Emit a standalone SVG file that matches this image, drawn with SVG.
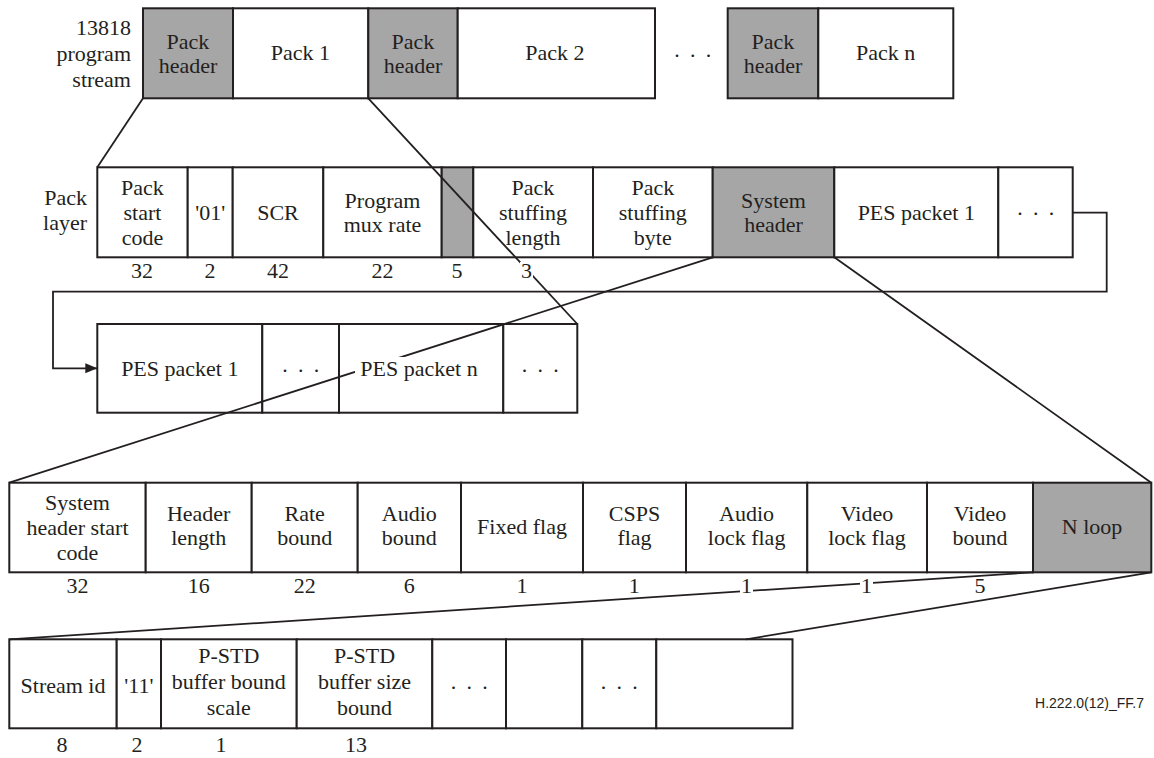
<svg xmlns="http://www.w3.org/2000/svg" width="1154" height="758" viewBox="0 0 1154 758">
<style>
  .c { fill: #ffffff; stroke: #231f20; stroke-width: 2; }
  .g { fill: #a6a6a6; stroke: #231f20; stroke-width: 2; }
  text { font-family: "Liberation Serif", "Times New Roman", serif; font-size: 22px; fill: #231f20; text-anchor: middle; }
  .lbl { text-anchor: end; }
  .dots { letter-spacing: 2.4px; }
  .ln { fill: none; stroke: #231f20; stroke-width: 1.8; }
  .bg { fill: #ffffff; stroke: none; }
  .ref { font-family: "Liberation Sans", Arial, sans-serif; font-size: 14px; text-anchor: end; }
</style>
<defs>
  <marker id="arr" markerUnits="userSpaceOnUse" markerWidth="13" markerHeight="11" refX="12" refY="5" orient="auto">
    <path d="M0,0 L12,5 L0,10 z" fill="#231f20"/>
  </marker>
</defs>

<!-- Row labels -->
<g id="label-program-stream">
  <text class="lbl" x="131" y="35">13818</text>
  <text class="lbl" x="131" y="61">program</text>
  <text class="lbl" x="131" y="87">stream</text>
</g>
<g id="label-pack-layer">
  <text class="lbl" x="87" y="205">Pack</text>
  <text class="lbl" x="87" y="230">layer</text>
</g>

<!-- Top row: 13818 program stream -->
<g id="ps-pack-header-1"><rect class="g" x="143" y="8.3" width="90" height="90"/><text x="188" y="48.5">Pack</text><text x="188" y="73">header</text></g>
<g id="ps-pack-1"><rect class="c" x="233" y="8.3" width="135.3" height="90"/><text x="300.5" y="60">Pack 1</text></g>
<g id="ps-pack-header-2"><rect class="g" x="368.3" y="8.3" width="89.4" height="90"/><text x="413" y="48.5">Pack</text><text x="413" y="73">header</text></g>
<g id="ps-pack-2"><rect class="c" x="457.7" y="8.3" width="197.3" height="90"/><text x="555" y="60">Pack 2</text></g>
<g id="ps-dots"><text class="dots" x="694" y="57">. . .</text></g>
<g id="ps-pack-header-n"><rect class="g" x="727.7" y="8.3" width="90.6" height="90"/><text x="773" y="48.5">Pack</text><text x="773" y="73">header</text></g>
<g id="ps-pack-n"><rect class="c" x="818.3" y="8.3" width="135" height="90"/><text x="885.7" y="60">Pack n</text></g>

<!-- Pack layer -->
<g id="pl-start-code"><rect class="c" x="97.3" y="167.3" width="90.4" height="90"/><text x="142.5" y="195">Pack</text><text x="142.5" y="220">start</text><text x="142.5" y="245">code</text></g>
<g id="pl-01"><rect class="c" x="187.7" y="167.3" width="45" height="90"/><text x="210.2" y="220">'01'</text></g>
<g id="pl-scr"><rect class="c" x="232.7" y="167.3" width="90.6" height="90"/><text x="278" y="220">SCR</text></g>
<g id="pl-mux-rate"><rect class="c" x="323.3" y="167.3" width="118.4" height="90"/><text x="382.5" y="208">Program</text><text x="382.5" y="232">mux rate</text></g>
<g id="pl-reserved"><rect class="g" x="441.7" y="167.3" width="31.6" height="90"/></g>
<g id="pl-stuffing-length"><rect class="c" x="473.3" y="167.3" width="119.7" height="90"/><text x="533" y="195">Pack</text><text x="533" y="220">stuffing</text><text x="533" y="245">length</text></g>
<g id="pl-stuffing-byte"><rect class="c" x="593" y="167.3" width="119.7" height="90"/><text x="652.8" y="195">Pack</text><text x="652.8" y="220">stuffing</text><text x="652.8" y="245">byte</text></g>
<g id="pl-system-header"><rect class="g" x="712.7" y="167.3" width="121.6" height="90"/><text x="773.5" y="208">System</text><text x="773.5" y="232">header</text></g>
<g id="pl-pes-1"><rect class="c" x="834.3" y="167.3" width="164" height="90"/><text x="916.3" y="220">PES packet 1</text></g>
<g id="pl-dots"><rect class="c" x="998.3" y="167.3" width="74.4" height="90"/><text class="dots" x="1037" y="215">. . .</text></g>
<g id="pl-bits">
  <text x="142" y="278">32</text><text x="210" y="278">2</text><text x="278" y="278">42</text><text x="382.5" y="278">22</text><text x="457" y="278">5</text>
</g>

<!-- PES row -->
<g id="pes-packet-1"><rect class="c" x="97.3" y="324" width="165" height="88.7"/><text x="179.8" y="375.5">PES packet 1</text></g>
<g id="pes-dots-1"><rect class="c" x="262.3" y="324" width="76.7" height="88.7"/><text class="dots" x="302" y="372">. . .</text></g>
<g id="pes-packet-n"><rect class="c" x="339" y="324" width="164.3" height="88.7"/></g>
<g id="pes-dots-2"><rect class="c" x="503.3" y="324" width="74" height="88.7"/><text class="dots" x="541.5" y="372">. . .</text></g>

<!-- System header row -->
<g id="sh-start-code"><rect class="c" x="9.3" y="482.7" width="136.4" height="89.6"/><text x="77.5" y="510">System</text><text x="77.5" y="535">header start</text><text x="77.5" y="560">code</text></g>
<g id="sh-header-length"><rect class="c" x="145.7" y="482.7" width="106" height="89.6"/><text x="198.7" y="521">Header</text><text x="198.7" y="545">length</text></g>
<g id="sh-rate-bound"><rect class="c" x="251.7" y="482.7" width="106" height="89.6"/><text x="304.7" y="521">Rate</text><text x="304.7" y="545">bound</text></g>
<g id="sh-audio-bound"><rect class="c" x="357.7" y="482.7" width="103.3" height="89.6"/><text x="409.3" y="521">Audio</text><text x="409.3" y="545">bound</text></g>
<g id="sh-fixed-flag"><rect class="c" x="461" y="482.7" width="122" height="89.6"/><text x="522" y="534">Fixed flag</text></g>
<g id="sh-csps-flag"><rect class="c" x="583" y="482.7" width="103" height="89.6"/><text x="634.5" y="521">CSPS</text><text x="634.5" y="545">flag</text></g>
<g id="sh-audio-lock"><rect class="c" x="686" y="482.7" width="121.3" height="89.6"/><text x="746.6" y="521">Audio</text><text x="746.6" y="545">lock flag</text></g>
<g id="sh-video-lock"><rect class="c" x="807.3" y="482.7" width="119.7" height="89.6"/><text x="867" y="521">Video</text><text x="867" y="545">lock flag</text></g>
<g id="sh-video-bound"><rect class="c" x="927" y="482.7" width="106" height="89.6"/><text x="980" y="521">Video</text><text x="980" y="545">bound</text></g>
<g id="sh-n-loop"><rect class="g" x="1033" y="482.7" width="118.3" height="89.6"/><text x="1092" y="534">N loop</text></g>
<g id="sh-bits">
  <text x="77.5" y="593">32</text><text x="198.7" y="593">16</text><text x="304.7" y="593">22</text><text x="409.3" y="593">6</text>
  <text x="522" y="593">1</text><text x="634.3" y="593">1</text><text x="980" y="593">5</text>
</g>

<!-- N loop row -->
<g id="nl-stream-id"><rect class="c" x="9.3" y="639.3" width="107.4" height="89"/><text x="63" y="693">Stream id</text></g>
<g id="nl-11"><rect class="c" x="116.7" y="639.3" width="44.3" height="89"/><text x="138.8" y="693">'11'</text></g>
<g id="nl-bound-scale"><rect class="c" x="161" y="639.3" width="135.7" height="89"/><text x="228.8" y="663">P-STD</text><text x="228.8" y="689">buffer bound</text><text x="228.8" y="715">scale</text></g>
<g id="nl-size-bound"><rect class="c" x="296.7" y="639.3" width="135.6" height="89"/><text x="364.5" y="663">P-STD</text><text x="364.5" y="689">buffer size</text><text x="364.5" y="715">bound</text></g>
<g id="nl-dots-1"><rect class="c" x="432.3" y="639.3" width="73.7" height="89"/><text class="dots" x="470.5" y="689">. . .</text></g>
<g id="nl-empty-1"><rect class="c" x="506" y="639.3" width="76.3" height="89"/></g>
<g id="nl-dots-2"><rect class="c" x="582.3" y="639.3" width="74" height="89"/><text class="dots" x="620.5" y="689">. . .</text></g>
<g id="nl-empty-2"><rect class="c" x="656.3" y="639.3" width="136.2" height="89"/></g>
<g id="nl-bits">
  <text x="62" y="752">8</text><text x="137" y="752">2</text><text x="221" y="752">1</text><text x="356" y="752">13</text>
</g>

<!-- Connectors -->
<g id="connectors">
  <line class="ln" x1="143" y1="98.3" x2="97.3" y2="167.3"/>
  <line class="ln" x1="368.3" y1="98.3" x2="577.3" y2="324"/>
  <line class="ln" x1="712.7" y1="257.3" x2="9.3" y2="482.7"/>
  <line class="ln" x1="834.3" y1="257.3" x2="1151.3" y2="482.7"/>
  <line class="ln" x1="1033" y1="572.3" x2="9.3" y2="639.3"/>
  <line class="ln" x1="1151.3" y1="572.3" x2="746" y2="639.3"/>
  <path class="ln" d="M1072.7,212.7 H1106.7 V291.7 H53 V368.3 H97.3" marker-end="url(#arr)"/>
</g>

<!-- Labels drawn over connectors (with white backing) -->
<g id="over-labels">
  <rect class="bg" x="520" y="262" width="13" height="18"/>
  <text x="526.5" y="278">3</text>
  <rect class="bg" x="355" y="357" width="124" height="20"/>
  <text x="419" y="375.5">PES packet n</text>
  <rect class="bg" x="740" y="577" width="13" height="18"/>
  <text x="746.5" y="593">1</text>
  <rect class="bg" x="860" y="577" width="13" height="18"/>
  <text x="866.5" y="593">1</text>
</g>

<text class="ref" x="1144" y="708">H.222.0(12)_FF.7</text>
</svg>
